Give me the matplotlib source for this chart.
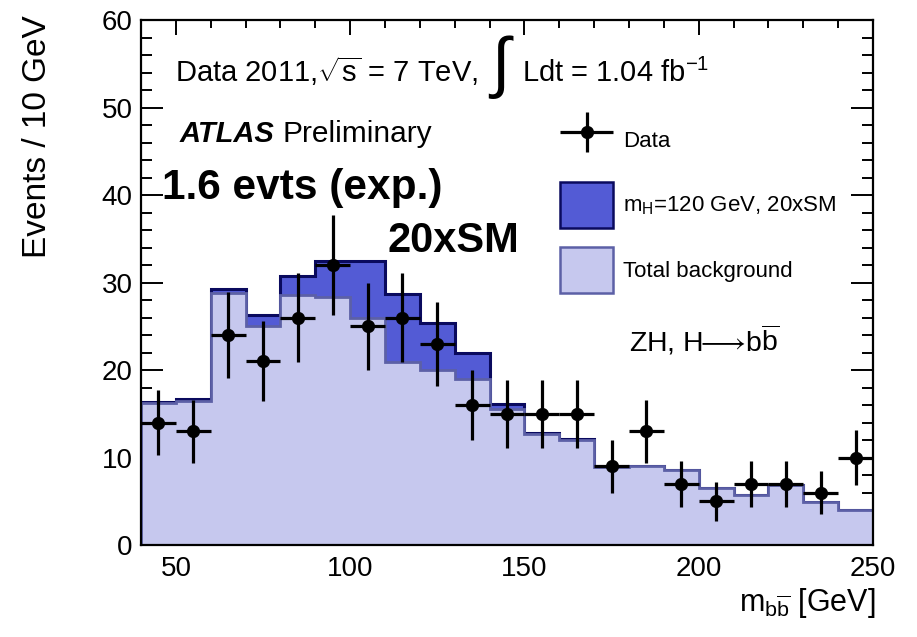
import numpy as np
import matplotlib
matplotlib.use("Agg")
import matplotlib.pyplot as plt
from matplotlib.ticker import MultipleLocator
from matplotlib.patches import Patch
from matplotlib.legend_handler import HandlerErrorbar

plt.rcParams['font.family'] = ['Liberation Sans', 'DejaVu Sans']
plt.rcParams['mathtext.fontset'] = 'custom'
plt.rcParams['mathtext.rm'] = 'Liberation Sans'
plt.rcParams['mathtext.it'] = 'Liberation Sans:italic'
plt.rcParams['mathtext.bf'] = 'Liberation Sans:bold'

# m_bb bins (GeV)
bin_edges = np.arange(40, 251, 10)
bin_centers = [45, 55, 65, 75, 85, 95, 105, 115, 125, 135, 145,
               155, 165, 175, 185, 195, 205, 215, 225, 235, 245]

# expected total background per bin
background = [16.2, 16.5, 28.8, 25.0, 28.6, 28.3, 26.0, 20.9, 20.0, 19.0, 15.5,
              12.7, 12.0, 8.95, 9.06, 8.57, 6.55, 5.7, 6.86, 4.88, 4.0]
# mH = 120 GeV signal scaled by 20
signal = [0.2, 0.2, 0.5, 1.3, 2.1, 4.2, 6.5, 7.8, 5.4, 3.0, 0.6,
          0.1, 0.1, 0.0, 0.0, 0.0, 0.0, 0.0, 0.0, 0.0, 0.0]
# observed events and their statistical errors
data = [14, 13, 24, 21, 26, 32, 25, 26, 23, 16, 15,
        15, 15, 9, 13, 7, 5, 7, 7, 6, 10]
data_err = [3.74, 3.61, 4.9, 4.58, 5.1, 5.66, 5.0, 5.1, 4.8, 4.0, 3.87,
            3.87, 3.87, 3.0, 3.61, 2.65, 2.24, 2.65, 2.65, 2.45, 3.16]

sig_fill = '#535bd5'
sig_edge = '#0a0a5e'
bkg_fill = '#c6c8ee'
bkg_edge = '#5c60a6'

fig = plt.figure(figsize=(9.17, 6.37), dpi=100)
ax = fig.add_axes([0.1538, 0.1444, 0.7982, 0.8242])

total = np.array(background) + np.array(signal)
ax.stairs(total, bin_edges, fill=True, color=sig_fill, zorder=1)
ax.stairs(total, bin_edges, fill=False, color=sig_edge, lw=2.2, zorder=2)
ax.stairs(background, bin_edges, fill=True, color=bkg_fill, zorder=3)
ax.stairs(background, bin_edges, fill=False, color=bkg_edge, lw=2.0, zorder=4)

eb = ax.errorbar(bin_centers, data, yerr=data_err, xerr=5, fmt='o', color='black',
                 ms=8.5, elinewidth=2.3, capsize=0, zorder=5)

ax.set_xlim(40, 250)
ax.set_ylim(0, 60)
ax.xaxis.set_major_locator(MultipleLocator(50))
ax.xaxis.set_minor_locator(MultipleLocator(10))
ax.yaxis.set_major_locator(MultipleLocator(10))
ax.yaxis.set_minor_locator(MultipleLocator(2))
ax.tick_params(which='both', direction='in', top=True, right=True, width=1.4,
               labelsize=20)
ax.tick_params(axis='y', which='major', length=16, pad=6)
ax.tick_params(axis='y', which='minor', length=8)
ax.tick_params(axis='x', which='major', length=11, pad=8)
ax.tick_params(axis='x', which='minor', length=5.5)
for sp in ax.spines.values():
    sp.set_linewidth(1.6)
    sp.set_zorder(6)

ax.set_ylabel('Events / 10 GeV', fontsize=24, loc='top')
ax.yaxis.set_label_coords(-0.120, 1.0095)
ax.set_xlabel(r'$\mathrm{m}_{\mathrm{b}\overline{\mathrm{b}}}$ [GeV]', fontsize=22,
              loc='right')
ax.xaxis.set_label_coords(1.003, -0.078)

# header text
ax.text(0.0464, 0.882, r'Data 2011,$\sqrt{\mathrm{s}}$ = 7 TeV,', fontsize=21,
        transform=ax.transAxes)
ax.text(0.492, 0.910, r'$\int$', fontsize=48, ha='center', va='center',
        transform=ax.transAxes)
ax.text(0.5205, 0.882, r'Ldt = 1.04 fb$^{\mathrm{-1}}$', fontsize=21,
        transform=ax.transAxes)

ax.text(0.0533, 0.768, 'ATLAS', fontsize=21, fontweight='bold', fontstyle='italic',
        transform=ax.transAxes)
ax.text(0.1926, 0.768, 'Preliminary', fontsize=21.5, transform=ax.transAxes)

ax.text(0.029, 0.660, '1.6 evts (exp.)', fontsize=30.5, fontweight='bold',
        transform=ax.transAxes)
ax.text(0.3374, 0.5587, '20xSM', fontsize=30, fontweight='bold', transform=ax.transAxes)

ax.text(0.6667, 0.368, r'ZH, H$\!\!\longrightarrow\!$b$\overline{\mathrm{b}}$',
        fontsize=20.5, transform=ax.transAxes)

# legend
h_sig = Patch(facecolor=sig_fill, edgecolor=sig_edge, lw=1.8)
h_bkg = Patch(facecolor=bkg_fill, edgecolor=bkg_edge, lw=1.8)
ax.legend([eb, h_sig, h_bkg],
          ['Data', r'm$_{\mathrm{H}}$=120 GeV, 20xSM', 'Total background'],
          loc='upper left', bbox_to_anchor=(0.5724, 0.815), frameon=False,
          fontsize=16, handlelength=2.39, handleheight=2.8, labelspacing=0.86,
          handletextpad=0.45, borderpad=0, borderaxespad=0,
          handler_map={eb: HandlerErrorbar(xerr_size=1.19, yerr_size=0.9)})

fig.savefig('out.png', dpi=100)
